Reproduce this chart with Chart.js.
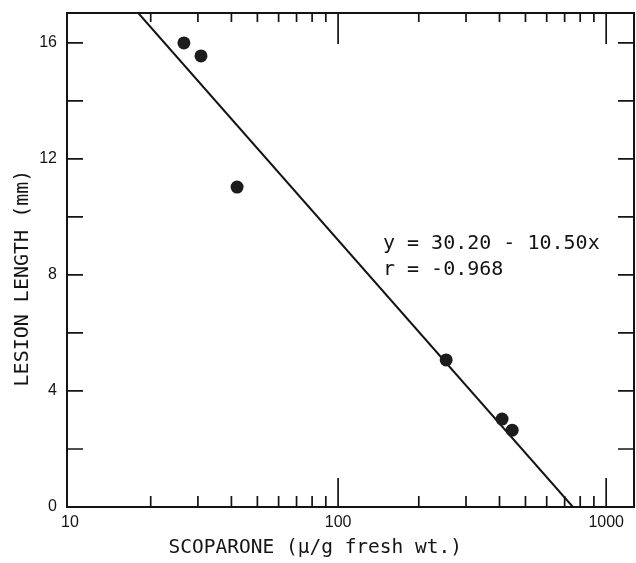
<!DOCTYPE html>
<html>
<head>
<meta charset="utf-8">
<script src="https://cdn.jsdelivr.net/npm/chart.js@4.4.1/dist/chart.umd.min.js"></script>
<style>
html,body{margin:0;padding:0;background:#fff;}
#wrap{width:636px;height:563px;}
</style>
</head>
<body>
<div id="wrap"><canvas id="c" width="636" height="563"></canvas></div>
<script>
// ---- data ----
const scoparone = [26.6, 30.8, 42, 253, 409, 446];          // µg/g fresh wt.
const lesionLength = [16.0, 15.55, 11.03, 5.07, 3.03, 2.65]; // mm
const fitLineX = [17.97, 751.6];
const fitLineY = [17.03, 0];
const xTickLabels = [10, 100, 1000];
const xMinorTicks = [20, 30, 40, 50, 60, 70, 80, 90, 200, 300, 400, 500, 600, 700, 800, 900];
const yTickLabels = [0, 4, 8, 12, 16];
const yMinorTicks = [2, 6, 10, 14];
const equationLines = ['y = 30.20 - 10.50x', 'r = -0.968'];
const equationAnchor = [147, 8.9];
const xTitle = 'SCOPARONE (\u03bc/g fresh wt.)';
const yTitle = 'LESION LENGTH (mm)';

const INK = '#141414';

const frameTicks = {
  id: 'frameTicks',
  afterDatasetsDraw(chart) {
    const {ctx, chartArea: {left, right, top, bottom}, scales: {x, y}} = chart;
    ctx.save();
    ctx.strokeStyle = INK;
    ctx.lineWidth = 1.7;
    ctx.beginPath();
    [...yTickLabels, ...yMinorTicks].forEach(v => {
      if (v === 0) return;
      const py = y.getPixelForValue(v);
      ctx.moveTo(left, py); ctx.lineTo(left + 16, py);
      ctx.moveTo(right, py); ctx.lineTo(right - 16, py);
    });
    xMinorTicks.forEach(v => {
      const px = x.getPixelForValue(v);
      ctx.moveTo(px, bottom); ctx.lineTo(px, bottom - 11);
      ctx.moveTo(px, top); ctx.lineTo(px, top + 9);
    });
    xTickLabels.forEach(v => {
      if (v === 10) return;
      const px = x.getPixelForValue(v);
      ctx.moveTo(px, bottom); ctx.lineTo(px, bottom - 29);
      ctx.moveTo(px, top); ctx.lineTo(px, top + 31);
    });
    ctx.stroke();
    ctx.lineWidth = 2;
    ctx.strokeRect(left, top, right - left, bottom - top);
    // equation annotation
    ctx.fillStyle = INK;
    ctx.font = '20px "DejaVu Sans Mono"';
    ctx.textAlign = 'left';
    ctx.textBaseline = 'alphabetic';
    const ax = x.getPixelForValue(equationAnchor[0]);
    const ay = y.getPixelForValue(equationAnchor[1]);
    equationLines.forEach((t, i) => ctx.fillText(t, ax, ay + i * 26));
    ctx.restore();
  }
};

const zeroPad = s => { s.paddingLeft = 0; s.paddingRight = 0; s.paddingTop = 0; s.paddingBottom = 0; };

new Chart(document.getElementById('c'), {
  type: 'scatter',
  data: {
    datasets: [
      {
        data: scoparone.map((v, i) => ({x: v, y: lesionLength[i]})),
        pointRadius: 6.5,
        pointBackgroundColor: '#1c1c1c',
        pointBorderColor: '#1c1c1c',
        pointBorderWidth: 0,
        showLine: false
      },
      {
        data: fitLineX.map((v, i) => ({x: v, y: fitLineY[i]})),
        showLine: true,
        pointRadius: 0,
        borderColor: INK,
        borderWidth: 2,
        fill: false
      }
    ]
  },
  options: {
    responsive: false,
    animation: false,
    devicePixelRatio: 1,
    layout: {autoPadding: false, padding: {left: 0, right: 2, top: 13, bottom: 0}},
    plugins: {legend: {display: false}, tooltip: {enabled: false}},
    scales: {
      x: {
        type: 'logarithmic',
        min: 9.745,
        max: 1270,
        afterFit(s) { s.height = 56; zeroPad(s); },
        afterBuildTicks(s) { s.ticks = xTickLabels.map(v => ({value: v})); },
        grid: {display: false, drawTicks: false},
        border: {display: false},
        ticks: {
          color: INK, padding: 6, maxRotation: 0, autoSkip: false,
          font: {family: 'Liberation Sans', size: 16},
          callback: v => String(v)
        },
        title: {
          display: true, text: xTitle + '      ', color: INK,
          font: {family: 'DejaVu Sans Mono', size: 19.5},
          padding: {top: 0, bottom: 3}
        }
      },
      y: {
        min: 0,
        max: 17.03,
        afterFit(s) { s.width = 67; zeroPad(s); },
        afterBuildTicks(s) { s.ticks = yTickLabels.map(v => ({value: v})); },
        grid: {display: false, drawTicks: false},
        border: {display: false},
        ticks: {
          color: INK, padding: 10,
          font: {family: 'Liberation Sans', size: 16},
          callback: v => String(v)
        },
        title: {
          display: true, text: yTitle + '   ', color: INK,
          font: {family: 'DejaVu Sans Mono', size: 20},
          padding: {top: 11, bottom: 0}
        }
      }
    }
  },
  plugins: [frameTicks]
});
</script>
</body>
</html>
